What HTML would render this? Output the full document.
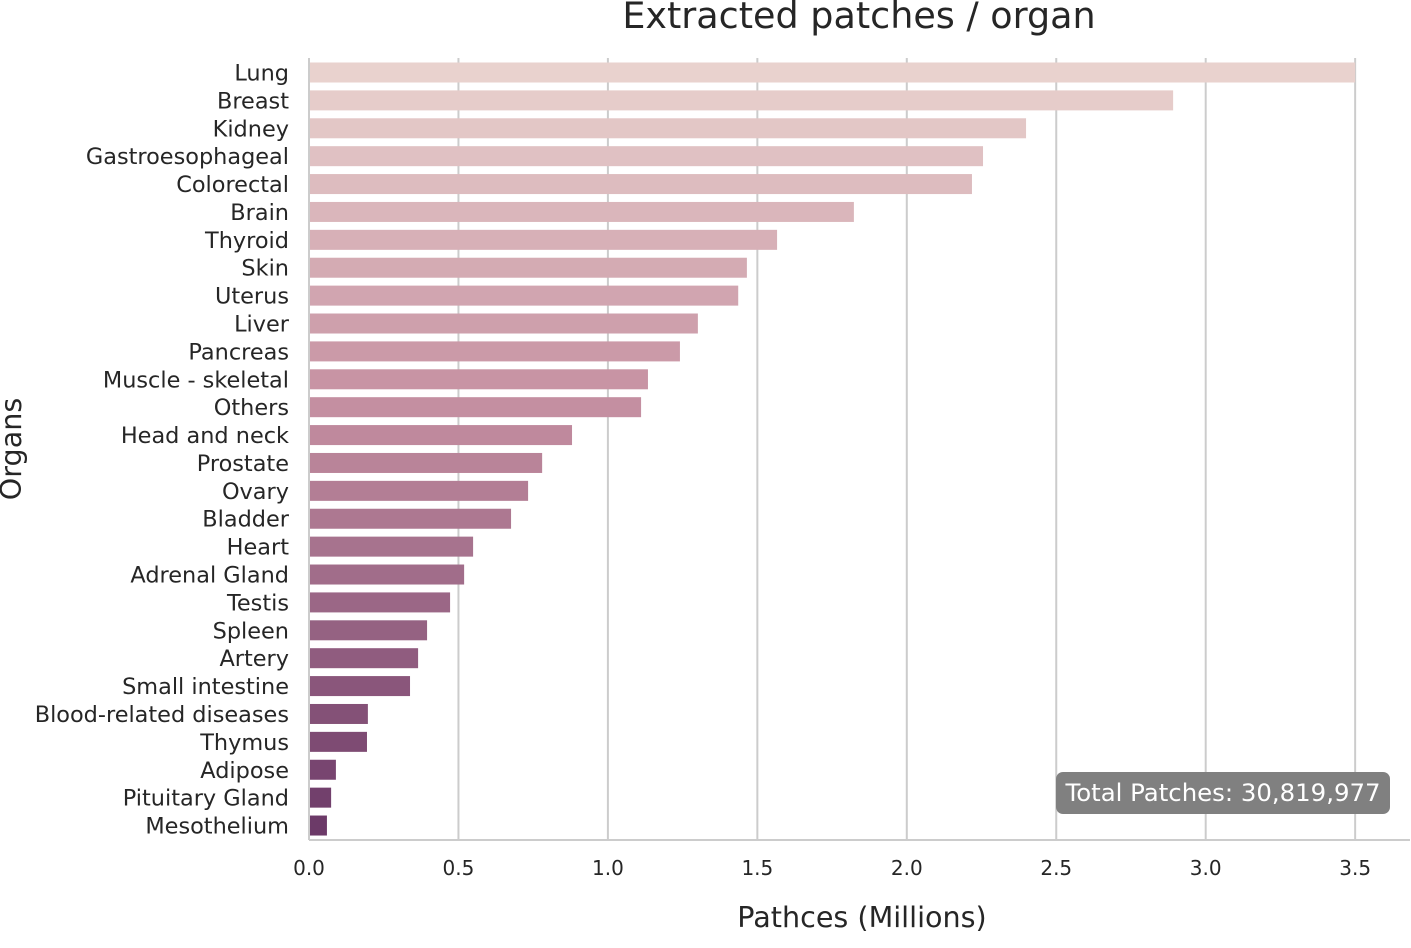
<!DOCTYPE html>
<html><head><meta charset="utf-8">
<style>
html,body{margin:0;padding:0;background:#fff;}
svg text{font-family:"DejaVu Sans","Liberation Sans",sans-serif;fill:#262626;}
</style></head>
<body>
<svg id="chart" width="1411" height="943" viewBox="0 0 1411 943" xmlns="http://www.w3.org/2000/svg">
<text x="859" y="28" font-size="36.5" text-anchor="middle">Extracted patches / organ</text>
<g id="grid"></g>
<g id="bars"></g>
<g id="ylabels"></g>
<g id="xticks"></g>
<line x1="309" y1="58" x2="309" y2="840" stroke="#cccccc" stroke-width="2"/>
<line x1="309" y1="840" x2="1410" y2="840" stroke="#cccccc" stroke-width="2"/>
<text x="862" y="927" font-size="28.6" text-anchor="middle">Pathces (Millions)</text>
<text x="0" y="0" font-size="28.6" text-anchor="middle" transform="translate(21,449) rotate(-90)">Organs</text>
<g>
<rect x="1056" y="772" width="334" height="42" rx="7" fill="#808080"/>
<text x="1223" y="801" font-size="24.4" text-anchor="middle" style="fill:#fff">Total Patches: 30,819,977</text>
</g>
</svg>
<script>
const categories=["Lung","Breast","Kidney","Gastroesophageal","Colorectal","Brain","Thyroid","Skin","Uterus","Liver","Pancreas","Muscle - skeletal","Others","Head and neck","Prostate","Ovary","Bladder","Heart","Adrenal Gland","Testis","Spleen","Artery","Small intestine","Blood-related diseases","Thymus","Adipose","Pituitary Gland","Mesothelium"];
const values=[3.5,2.891,2.399,2.255,2.218,1.823,1.566,1.465,1.436,1.301,1.241,1.134,1.111,0.880,0.780,0.733,0.676,0.549,0.519,0.472,0.395,0.365,0.338,0.197,0.194,0.090,0.074,0.060];
const xTicks=[0,0.5,1.0,1.5,2.0,2.5,3.0,3.5];
const NS="http://www.w3.org/2000/svg";
const x0=309,xs=298.9;
function xScale(v){return x0+v*xs;}
function yScale(i){return 72.5+i*27.89;}
function mk(t,a,p){const e=document.createElementNS(NS,t);for(const k in a)e.setAttribute(k,a[k]);p.appendChild(e);return e;}
const stops=[[233,210,206],[196,142,160],[108,58,104]];
function col(i){const t=i/(categories.length-1);let a,b,u;if(t<0.45){a=stops[0];b=stops[1];u=t/0.45;}else{a=stops[1];b=stops[2];u=(t-0.45)/0.55;}
return "rgb("+a.map((c,k)=>Math.round(c+(b[k]-c)*u)).join(",")+")";}
const grid=document.getElementById('grid'),bars=document.getElementById('bars'),yl=document.getElementById('ylabels'),xt=document.getElementById('xticks');
xTicks.forEach(v=>{
 const l=mk('line',{x1:xScale(v),x2:xScale(v),y1:58,y2:840,stroke:'#cccccc','stroke-width':2},grid);
 
 
 const t=mk('text',{x:xScale(v),y:875,'font-size':20,'text-anchor':'middle'},xt);
 t.textContent=v.toFixed(1);
 
 
});
categories.forEach((c,i)=>{
 const y=yScale(i);
 const r=mk('rect',{x:x0,y:y-10,width:xScale(values[i])-x0,height:20,fill:col(i)},bars);
 
 
 const t=mk('text',{x:289,y:y+8,'font-size':22.4,'text-anchor':'end'},yl);
 t.textContent=c;
 
 
});
</script>
</body></html>
